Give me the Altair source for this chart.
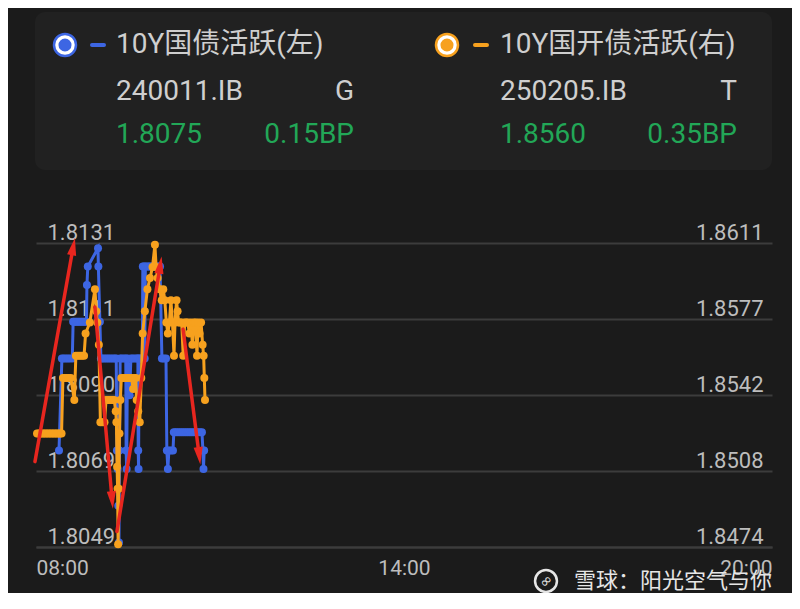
import altair as alt
import pandas as pd

DAY = "2025-03-10T"

# ---------------- header texts ----------------
left_title = "10Y国债活跃(左)"
left_code = "240011.IB"
left_tag = "G"
left_last = "1.8075"
left_chg = "0.15BP"
right_title = "10Y国开债活跃(右)"
right_code = "250205.IB"
right_tag = "T"
right_last = "1.8560"
right_chg = "0.35BP"
watermark = "雪球：阳光空气与你"

# ---------------- series: 10Y government bond (left axis) ----------------
blue_time = [
    "08:22:30", "08:25:20", "08:27:00", "08:29:00", "08:31:00", "08:33:00", "08:35:30",
    "08:36:20", "08:37:30", "08:39:00", "08:40:30", "08:42:00", "08:43:30", "08:45:00",
    "08:46:30", "08:48:00", "08:49:20", "08:49:50", "08:50:40", "09:00:40", "09:01:00",
    "09:02:30", "09:03:30", "09:05:00", "09:07:00", "09:09:00", "09:11:00", "09:13:00",
    "09:15:00", "09:17:00", "09:18:30", "09:19:10", "09:19:50", "09:20:30", "09:21:10",
    "09:21:40", "09:22:20", "09:24:00", "09:26:00", "09:27:50", "09:28:10", "09:28:40",
    "09:29:30", "09:31:30", "09:32:50", "09:34:30", "09:36:30", "09:38:30", "09:39:40",
    "09:40:00", "09:40:20", "09:40:50", "09:42:30", "09:44:00", "09:44:30", "09:45:00",
    "09:45:40", "09:46:20", "09:47:00", "09:48:30", "09:50:00", "09:51:30", "09:53:00",
    "09:54:30", "09:56:00", "09:57:30", "09:59:00", "10:00:30", "10:01:20", "10:03:10",
    "10:05:00", "10:07:10", "10:08:00", "10:09:00", "10:10:00", "10:12:00", "10:14:00",
    "10:14:50", "10:16:30", "10:18:30", "10:20:30", "10:22:30", "10:24:30", "10:26:30",
    "10:28:30", "10:30:30", "10:32:30", "10:34:30", "10:36:30", "10:38:30", "10:40:30",
    "10:42:20", "10:43:20", "10:43:50", "10:44:30",
]
blue_value = [
    1.8075, 1.8100, 1.8100, 1.8100, 1.8100, 1.8100, 1.8100,
    1.8110, 1.8110, 1.8110, 1.8110, 1.8110, 1.8110, 1.8110,
    1.8110, 1.8110, 1.8110, 1.8120, 1.8125, 1.8130, 1.8125,
    1.8110, 1.8100, 1.8100, 1.8100, 1.8100, 1.8100, 1.8100,
    1.8100, 1.8100, 1.8100, 1.8075, 1.8070, 1.8060, 1.8050,
    1.8075, 1.8100, 1.8100, 1.8100, 1.8100, 1.8075, 1.8070,
    1.8100, 1.8090, 1.8100, 1.8100, 1.8100, 1.8100, 1.8100,
    1.8075, 1.8070, 1.8100, 1.8100, 1.8100, 1.8125, 1.8100,
    1.8125, 1.8100, 1.8125, 1.8125, 1.8125, 1.8125, 1.8125,
    1.8125, 1.8125, 1.8125, 1.8125, 1.8125, 1.8125, 1.8100,
    1.8100, 1.8100, 1.8075, 1.8070, 1.8075, 1.8075, 1.8075,
    1.8080, 1.8080, 1.8080, 1.8080, 1.8080, 1.8080, 1.8080,
    1.8080, 1.8080, 1.8080, 1.8080, 1.8080, 1.8080, 1.8080,
    1.8080, 1.8075, 1.8070, 1.8075,
]

# ---------------- series: 10Y CDB bond (right axis) ----------------
orange_time = [
    "08:01:00", "08:02:30", "08:04:00", "08:05:30", "08:07:00", "08:08:30", "08:10:00",
    "08:11:30", "08:13:00", "08:14:30", "08:16:00", "08:17:30", "08:19:00", "08:20:30",
    "08:22:00", "08:23:30", "08:25:00", "08:26:20", "08:28:00", "08:30:00", "08:32:00",
    "08:34:00", "08:37:30", "08:39:00", "08:41:00", "08:43:00", "08:45:00", "08:47:00",
    "08:48:30", "08:52:40", "08:57:40", "08:59:00", "09:00:00", "09:01:30", "09:03:00",
    "09:05:00", "09:07:00", "09:08:30", "09:10:30", "09:12:30", "09:14:30", "09:16:30",
    "09:18:00", "09:18:40", "09:19:20", "09:19:50", "09:20:20", "09:21:00", "09:21:40",
    "09:22:30", "09:23:30", "09:25:30", "09:27:30", "09:29:30", "09:31:30", "09:33:30",
    "09:35:00", "09:36:00", "09:37:30", "09:38:30", "09:40:00", "09:41:30", "09:43:00",
    "09:44:20", "09:46:30", "09:49:00", "09:51:30", "09:54:00", "09:56:20", "09:57:30",
    "09:59:00", "10:01:00", "10:03:00", "10:04:30", "10:06:00", "10:07:30", "10:09:00",
    "10:10:30", "10:12:00", "10:13:30", "10:15:00", "10:16:00", "10:17:30", "10:18:30",
    "10:19:30", "10:21:00", "10:22:30", "10:24:00", "10:25:30", "10:27:00", "10:28:30",
    "10:30:00", "10:31:30", "10:33:00", "10:34:30", "10:36:00", "10:37:30", "10:38:30",
    "10:40:00", "10:41:30", "10:43:00", "10:44:00", "10:44:40", "10:45:20",
]
orange_value = [
    1.8525, 1.8525, 1.8525, 1.8525, 1.8525, 1.8525, 1.8525,
    1.8525, 1.8525, 1.8525, 1.8525, 1.8525, 1.8525, 1.8525,
    1.8525, 1.8525, 1.8525, 1.8550, 1.8550, 1.8550, 1.8550,
    1.8550, 1.8540, 1.8560, 1.8560, 1.8560, 1.8560, 1.8560,
    1.8570, 1.8575, 1.8590, 1.8580, 1.8575, 1.8565, 1.8530,
    1.8530, 1.8530, 1.8540, 1.8540, 1.8540, 1.8540, 1.8540,
    1.8535, 1.8530, 1.8510, 1.8500, 1.8475, 1.8500, 1.8525,
    1.8540, 1.8550, 1.8550, 1.8550, 1.8550, 1.8550, 1.8550,
    1.8545, 1.8550, 1.8550, 1.8540, 1.8535, 1.8530, 1.8550,
    1.8570, 1.8580, 1.8590, 1.8595, 1.8600, 1.8610, 1.8600,
    1.8595, 1.8590, 1.8585, 1.8590, 1.8585, 1.8575, 1.8570,
    1.8575, 1.8585, 1.8575, 1.8560, 1.8575, 1.8585, 1.8580,
    1.8575, 1.8575, 1.8575, 1.8560, 1.8575, 1.8575, 1.8575,
    1.8570, 1.8575, 1.8565, 1.8575, 1.8575, 1.8560, 1.8575,
    1.8570, 1.8575, 1.8565, 1.8560, 1.8550, 1.8540,
]

# ---------------- hand-drawn red arrows (in left-axis units) ----------------
arrow_id = [1, 1, 2, 2, 3, 3, 4, 4]
arrow_time = ["07:59:00", "08:36:10", "08:57:40", "09:14:20",
              "09:19:10", "10:01:20", "10:23:50", "10:39:30"]
arrow_value = [1.8072, 1.8130, 1.8114, 1.8062, 1.8053, 1.8125, 1.8108, 1.8074]
arrow_head_angle = [11, 175, 9, 173]

# ---------------- axes ----------------
left_ticks = [1.80488, 1.806945, 1.80901, 1.811075, 1.81314]
right_ticks = [1.84738, 1.850805, 1.85423, 1.857655, 1.86108]
x_ticks_hours = [8, 14, 20]

BG = "#1b1b1b"
PANEL = "#212121"
BLUE = "#3d66e3"
ORANGE = "#f7a11e"
RED = "#e8261f"
GREEN = "#22a757"
TXT = "#cfcfcf"
GRID = "#3c3c3c"
FONT = "Roboto, 'Noto Sans CJK SC', sans-serif"


def dt(h):
    return alt.DateTime(year=2025, month=3, date=10, hours=h)


blue_df = pd.DataFrame({"t": [DAY + s for s in blue_time], "v": blue_value})
orange_df = pd.DataFrame({"t": [DAY + s for s in orange_time], "v": orange_value})
arrow_df = pd.DataFrame({"id": arrow_id, "t": [DAY + s for s in arrow_time], "v": arrow_value})
head_df = arrow_df.groupby("id").tail(1).copy()
head_df["a"] = arrow_head_angle

x_axis = alt.Axis(
    values=[dt(h) for h in x_ticks_hours], format="%H:%M", labelFlush=True,
    ticks=False, tickSize=0, grid=False, domain=True, domainColor=GRID, domainWidth=2,
    labelColor="#bdbdbd", labelFont=FONT, labelFontSize=21, labelPadding=10,
    title=None, labelOverlap=False,
)
X = alt.X("t:T", scale=alt.Scale(domain=[dt(8), dt(20)]), axis=x_axis)

left_scale = alt.Scale(domain=[left_ticks[0], left_ticks[-1]], nice=False, zero=False)
right_scale = alt.Scale(domain=[right_ticks[0], right_ticks[-1]], nice=False, zero=False)

left_axis = alt.Axis(
    orient="left", values=left_ticks, format=".4f", title=None, domain=False,
    ticks=False, tickSize=0, labelAlign="left", labelPadding=-11,
    labelBaseline="alphabetic", labelOffset=-4, labelFlush=False, labelOverlap=False,
    labelColor="#bdbdbd", labelFont=FONT, labelFontSize=22,
    grid=True, gridColor=GRID, gridWidth=2,
)
right_axis = alt.Axis(
    orient="right", values=right_ticks, format=".4f", title=None, domain=False,
    ticks=False, tickSize=0, labelAlign="right", labelPadding=-9,
    labelBaseline="alphabetic", labelOffset=-4, labelFlush=False, labelOverlap=False,
    labelColor="#bdbdbd", labelFont=FONT, labelFontSize=22, grid=False,
)

one = pd.DataFrame({"k": [0]})


def txt(text, x, y, color=TXT, size=28, align="left"):
    return alt.Chart(one).mark_text(
        text=text, align=align, baseline="middle", font=FONT, fontSize=size, color=color
    ).encode(x=alt.value(x), y=alt.value(y))


def icon(x, y, color):
    outer = alt.Chart(one).mark_point(shape="circle", filled=True, size=600, color=color,
                                      opacity=1).encode(x=alt.value(x), y=alt.value(y))
    ring = alt.Chart(one).mark_point(shape="circle", filled=True, size=380, color="#ffffff",
                                     opacity=1).encode(x=alt.value(x), y=alt.value(y))
    inner = alt.Chart(one).mark_point(shape="circle", filled=True, size=170, color=color,
                                      opacity=1).encode(x=alt.value(x), y=alt.value(y))
    return [outer, ring, inner]


def dash(x1, x2, y, color):
    return alt.Chart(one).mark_rule(color=color, strokeWidth=4, strokeCap="round").encode(
        x=alt.value(x1), x2=alt.value(x2), y=alt.value(y))


panel = alt.Chart(one).mark_rect(color=PANEL, cornerRadius=10).encode(
    x=alt.value(-1), x2=alt.value(736), y=alt.value(-231), y2=alt.value(-73))

header = [panel]
header += icon(29, -198, BLUE)
header.append(dash(56, 68, -198, BLUE))
header += [
    txt(left_title, 80, -198),
    txt(left_code, 80, -151),
    txt(left_tag, 318, -151, align="right"),
    txt(left_last, 80, -108, color=GREEN),
    txt(left_chg, 318, -108, color=GREEN, align="right"),
]
header += icon(411, -198, ORANGE)
header.append(dash(439, 451, -198, ORANGE))
header += [
    txt(right_title, 464, -198),
    txt(right_code, 464, -151),
    txt(right_tag, 701, -151, align="right"),
    txt(right_last, 464, -108, color=GREEN),
    txt(right_chg, 701, -108, color=GREEN, align="right"),
]

blue = alt.Chart(blue_df).mark_line(
    color=BLUE, strokeWidth=3,
    point=alt.OverlayMarkDef(color=BLUE, filled=True, size=64, opacity=1),
).encode(x=X, y=alt.Y("v:Q", scale=left_scale, axis=left_axis))

orange = alt.Chart(orange_df).mark_line(
    color=ORANGE, strokeWidth=3,
    point=alt.OverlayMarkDef(color=ORANGE, filled=True, size=64, opacity=1),
).encode(x=X, y=alt.Y("v:Q", scale=right_scale, axis=right_axis))

arrows = alt.Chart(arrow_df).mark_line(color=RED, strokeWidth=3.5, strokeCap="round").encode(
    x=X, y=alt.Y("v:Q", scale=left_scale, axis=None), detail="id:N")
heads = alt.Chart(head_df).mark_point(
    shape="M0,-1L0.45,0.7L-0.45,0.7Z", filled=True, size=420, color=RED, opacity=1
).encode(x=X, y=alt.Y("v:Q", scale=left_scale, axis=None), angle=alt.Angle("a:Q", scale=None))

logo = alt.Chart(one).mark_point(shape="circle", filled=False, size=480, color="#e6e6e6",
                                 strokeWidth=2.5, opacity=1).encode(
    x=alt.value(510), y=alt.value(338))
logo_s = alt.Chart(one).mark_text(text="∞", font="DejaVu Sans", fontSize=15, color="#e6e6e6",
                                  angle=315, baseline="middle", align="center").encode(
    x=alt.value(510), y=alt.value(338))
wm = txt(watermark, 736, 338, color="#e6e6e6", size=22, align="right")

chart = alt.layer(
    *header, blue, orange, arrows, heads, logo, logo_s, wm
).resolve_scale(y="independent").properties(
    width=736, height=304,
    autosize=alt.AutoSizeParams(type="none"),
    padding={"left": 28, "top": 235, "right": 20, "bottom": 46},
).configure(background=BG).configure_view(stroke=None)

chart.save("out.html", embed_options={"renderer": "svg", "actions": False})
